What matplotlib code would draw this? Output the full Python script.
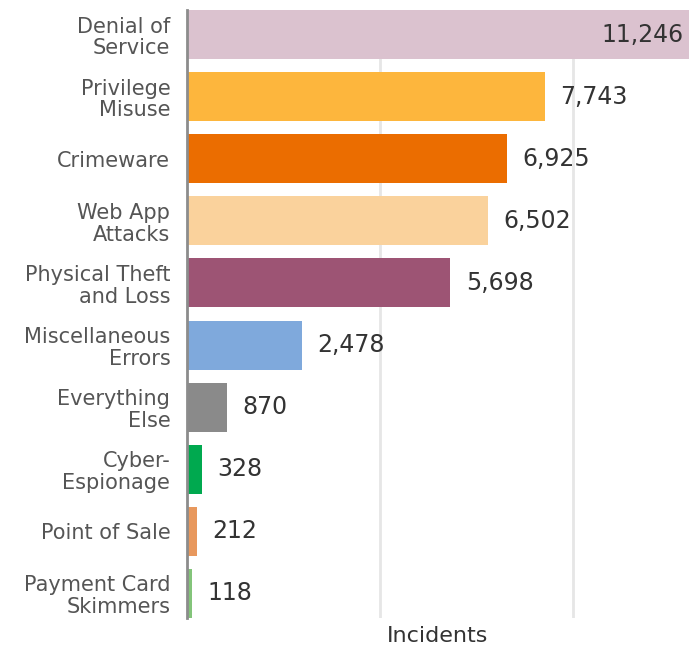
import matplotlib.pyplot as plt
from matplotlib.ticker import FixedLocator

# incidents by incident pattern
patterns = ['Denial of\nService', 'Privilege\nMisuse', 'Crimeware', 'Web App\nAttacks',
            'Physical Theft\nand Loss', 'Miscellaneous\nErrors', 'Everything\nElse',
            'Cyber-\nEspionage', 'Point of Sale', 'Payment Card\nSkimmers']
incidents = [11246, 7743, 6925, 6502, 5698, 2478, 870, 328, 212, 118]
colors = ['#dbc2cf', '#fdb63d', '#eb6d00', '#fad29c', '#9d5474',
          '#7fa9dc', '#8a8a8a', '#00a94f', '#e8985d', '#83c47a']

plt.rcParams['font.family'] = 'DejaVu Sans'

fig = plt.figure(figsize=(6.89, 6.53), dpi=100)
ax = fig.add_axes([187/689, 35/653, 502/689, 608/653])

y = range(len(patterns))
ax.barh(y, incidents, height=0.79, color=colors, zorder=2)

xmax = 10857
ax.set_xlim(0, xmax)
ax.set_ylim(len(patterns) - 1 + 0.4, -0.4)

for i, v in enumerate(incidents):
    txt = f'{v:,}'
    if v > xmax:
        ax.annotate(txt, (xmax, i), xytext=(-4, 0), textcoords='offset points',
                    ha='right', va='center', fontsize=17, color='#333333')
    else:
        ax.annotate(txt, (v, i), xytext=(11, 0), textcoords='offset points',
                    ha='left', va='center', fontsize=17, color='#333333')

ax.set_yticks(list(y))
ax.set_yticklabels(patterns, fontsize=15, color='#555555', linespacing=1.1,
                   ha='right')
ax.tick_params(axis='y', length=0, pad=12)

ax.xaxis.set_major_locator(FixedLocator([4175, 8350]))
ax.tick_params(axis='x', length=0, labelbottom=False)
ax.grid(axis='x', color='#e6e6e6', linewidth=2, zorder=0)
ax.set_xlabel('Incidents', fontsize=16, color='#333333', labelpad=6)

for s in ['top', 'right', 'bottom']:
    ax.spines[s].set_visible(False)
ax.spines['left'].set_color('#8c8c8c')
ax.spines['left'].set_linewidth(2)
ax.spines['left'].set_zorder(3)

plt.savefig('out.png', dpi=100)
